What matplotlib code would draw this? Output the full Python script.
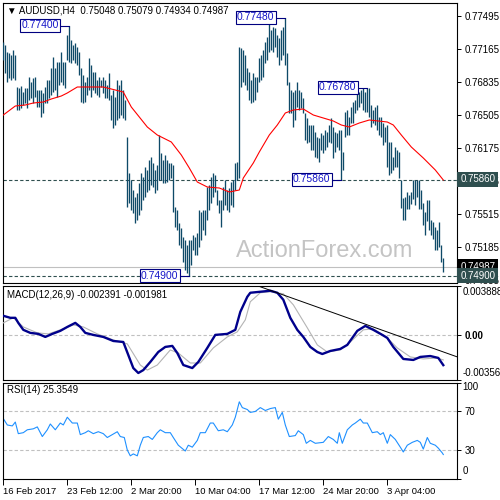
import matplotlib
matplotlib.use('Agg')
import matplotlib.pyplot as plt

plt.rcParams['font.family'] = ['Liberation Sans', 'DejaVu Sans']

# H4 bars, high / low per bar
bar_high = [0.77235, 0.77205, 0.77135, 0.77125, 0.77105, 0.77155, 0.77105, 0.76785, 0.76775, 0.76795,
            0.76735, 0.76775, 0.76775, 0.76885, 0.76835, 0.76875, 0.76885, 0.76755, 0.76755, 0.76755,
            0.76725, 0.76785, 0.76855, 0.76855, 0.76975, 0.77085, 0.76975, 0.77035, 0.77035, 0.77135,
            0.77035, 0.77035, 0.77305, 0.77400, 0.77255, 0.77205, 0.77225, 0.77185, 0.77135, 0.76975,
            0.76905, 0.76835, 0.76885, 0.77075, 0.77005, 0.76935, 0.76935, 0.76855, 0.76885, 0.76855,
            0.76885, 0.76855, 0.76805, 0.76925, 0.76705, 0.76755, 0.76685, 0.76855, 0.76805, 0.76855,
            0.76755, 0.76655, 0.76285, 0.75925, 0.75855, 0.75755, 0.75685, 0.75725, 0.75825, 0.75925,
            0.75885, 0.75985, 0.75955, 0.76055, 0.76085, 0.76025, 0.75955, 0.76005, 0.76305, 0.76125,
            0.76055, 0.76105, 0.76055, 0.76025, 0.76025, 0.76005, 0.75585, 0.75555, 0.75425, 0.75375,
            0.75285, 0.75255, 0.75205, 0.75255, 0.75255, 0.75305, 0.75285, 0.75325, 0.75555, 0.75535,
            0.75555, 0.75555, 0.75785, 0.75805, 0.75885, 0.75925, 0.75905, 0.75755, 0.75655, 0.75655,
            0.75785, 0.75855, 0.75755, 0.75775, 0.75835, 0.75855, 0.76025, 0.76035, 0.77185, 0.77175,
            0.77155, 0.77105, 0.76975, 0.76935, 0.76855, 0.76925, 0.76885, 0.76885, 0.77075, 0.77105,
            0.77155, 0.77235, 0.77285, 0.77435, 0.77355, 0.77385, 0.77375, 0.77305, 0.77275, 0.77355,
            0.77385, 0.77480, 0.77125, 0.76835, 0.76755, 0.76735, 0.76755, 0.76835, 0.76755, 0.76735,
            0.76675, 0.76525, 0.76475, 0.76405, 0.76405, 0.76405, 0.76335, 0.76285, 0.76275, 0.76325,
            0.76305, 0.76355, 0.76335, 0.76405, 0.76475, 0.76385, 0.76335, 0.76325, 0.76355, 0.76355,
            0.76135, 0.76535, 0.76555, 0.76485, 0.76585, 0.76635, 0.76655, 0.76755, 0.76735, 0.76755,
            0.76775, 0.76735, 0.76780, 0.76775, 0.76605, 0.76555, 0.76585, 0.76605, 0.76485, 0.76485,
            0.76425, 0.76385, 0.76405, 0.76235, 0.76235, 0.76085, 0.76185, 0.76155, 0.76135, 0.75855,
            0.75675, 0.75685, 0.75735, 0.75705, 0.75735, 0.75855, 0.75855, 0.75855, 0.75855, 0.75755,
            0.75625, 0.75535, 0.75655, 0.75655, 0.75455, 0.75435, 0.75385, 0.75355, 0.75435, 0.75205,
            0.75079]
bar_low = [0.77055, 0.76925, 0.76835, 0.76875, 0.76855, 0.76875, 0.76855, 0.76555, 0.76555, 0.76575,
           0.76605, 0.76625, 0.76575, 0.76655, 0.76675, 0.76625, 0.76685, 0.76585, 0.76585, 0.76485,
           0.76525, 0.76625, 0.76625, 0.76675, 0.76705, 0.76735, 0.76755, 0.76685, 0.76805, 0.76835,
           0.76805, 0.76775, 0.77055, 0.77035, 0.77025, 0.77055, 0.77025, 0.77005, 0.76905, 0.76635,
           0.76625, 0.76635, 0.76705, 0.76755, 0.76685, 0.76755, 0.76725, 0.76705, 0.76685, 0.76785,
           0.76725, 0.76675, 0.76675, 0.76655, 0.76455, 0.76375, 0.76405, 0.76455, 0.76475, 0.76505,
           0.76475, 0.76455, 0.75585, 0.75625, 0.75555, 0.75525, 0.75425, 0.75455, 0.75505, 0.75555,
           0.75655, 0.75685, 0.75735, 0.75755, 0.75805, 0.75785, 0.75725, 0.75755, 0.75855, 0.75855,
           0.75825, 0.75825, 0.75835, 0.75855, 0.75875, 0.75535, 0.75385, 0.75355, 0.75205, 0.75175,
           0.75035, 0.74955, 0.74925, 0.74900, 0.75005, 0.75155, 0.75105, 0.75105, 0.75185, 0.75255,
           0.75355, 0.75305, 0.75455, 0.75555, 0.75625, 0.75685, 0.75735, 0.75605, 0.75525, 0.75385,
           0.75555, 0.75605, 0.75555, 0.75535, 0.75605, 0.75585, 0.75755, 0.75855, 0.75875, 0.76785,
           0.76835, 0.76805, 0.76755, 0.76655, 0.76625, 0.76635, 0.76655, 0.76735, 0.76835, 0.76855,
           0.76885, 0.77025, 0.77055, 0.77135, 0.77155, 0.77135, 0.77185, 0.77085, 0.77005, 0.77055,
           0.77105, 0.77005, 0.76805, 0.76525, 0.76525, 0.76385, 0.76455, 0.76585, 0.76555, 0.76575,
           0.76525, 0.76255, 0.76225, 0.76235, 0.76155, 0.76155, 0.76085, 0.76075, 0.76035, 0.76155,
           0.76125, 0.76155, 0.76185, 0.76235, 0.76225, 0.76075, 0.76135, 0.76185, 0.76155, 0.75860,
           0.75955, 0.76285, 0.76305, 0.76305, 0.76425, 0.76425, 0.76525, 0.76555, 0.76585, 0.76625,
           0.76555, 0.76535, 0.76535, 0.76485, 0.76385, 0.76425, 0.76405, 0.76355, 0.76305, 0.76285,
           0.76205, 0.76235, 0.75985, 0.75905, 0.75925, 0.75955, 0.75985, 0.75985, 0.75875, 0.75575,
           0.75455, 0.75455, 0.75565, 0.75565, 0.75615, 0.75665, 0.75605, 0.75685, 0.75565, 0.75565,
           0.75405, 0.75305, 0.75445, 0.75355, 0.75305, 0.75265, 0.75155, 0.75155, 0.75185, 0.75035,
           0.74934]

# red moving average (sampled along the line)
ma_idx = [0, 6, 11, 15, 20, 24, 29, 32, 37, 42, 50, 54, 60, 64, 68, 72, 77, 84, 89, 93,
          97, 102, 108, 113, 118, 120, 125, 128, 133, 137, 141, 145, 150, 155, 160, 165, 169, 173, 178, 183,
          192, 195, 199, 204, 210, 216, 220]
ma_val = [0.76505, 0.76595, 0.76605, 0.76625, 0.76635, 0.76665, 0.76695, 0.76725, 0.76785, 0.76785,
          0.76785, 0.76765, 0.76735, 0.76585, 0.76485, 0.76385, 0.76305, 0.76235, 0.76105, 0.75975,
          0.75835, 0.75785, 0.75775, 0.75735, 0.75755, 0.75875, 0.76025, 0.76135, 0.76305, 0.76405,
          0.76525, 0.76555, 0.76565, 0.76505, 0.76475, 0.76445, 0.76405, 0.76385, 0.76425, 0.76455,
          0.76435, 0.76405, 0.76305, 0.76185, 0.76075, 0.75955, 0.75855]

# MACD(12,26,9)
macd_idx = [0, 3.5, 6, 7.5, 10, 13.5, 17.5, 21, 24.5, 28.5, 32, 36, 38.5, 41, 45, 50, 55, 60, 62.5, 65,
            67.5, 70, 73.5, 77.5, 81, 84.5, 87, 90, 94.5, 97.5, 102, 106, 112, 116, 118.5, 122, 123.5, 128.5,
            133.5, 137, 140, 143.5, 147, 150, 153.5, 157, 159.5, 163.5, 168.5, 172, 177, 181, 185, 189.5,
            192, 195, 200, 205, 208.5, 213.5, 217.5, 220]
macd_val = [0.00151, 0.00135, 0.00135, 0.00095, 0.00040, 0.00016, 0.00008, -0.00016, 0.00008, 0.00032,
            0.00063, 0.00095, 0.00063, 0.00016, 0.0, -0.00016, -0.00048, -0.00056, -0.00159, -0.00262,
            -0.00301, -0.00278, -0.00214, -0.00135, -0.00095, -0.00087, -0.00143, -0.00238, -0.00262, -0.00214,
            -0.00103, 0.0, 0.00008, 0.00040, 0.00182, 0.00301, 0.00333, 0.00341, 0.00349, 0.00333,
            0.00278, 0.00135, 0.00040, -0.00016, -0.00095, -0.00135, -0.00151, -0.00127, -0.00111, -0.00079,
            0.00032, 0.00071, 0.00040, 0.0, -0.00024, -0.00095, -0.00190, -0.00198, -0.00174, -0.00167,
            -0.00182, -0.00239]
sig_idx = [0, 5, 10, 17, 22.5, 28.5, 35, 40, 47, 55, 62, 68.5, 72, 77, 83.5, 87.5, 93.5, 98.5, 105, 112,
           117, 121, 123.5, 128.5, 133.5, 140, 145, 152, 157, 162, 168.5, 173.5, 180, 185, 192, 197,
           203.5, 210, 217, 220]
sig_val = [0.00095, 0.00135, 0.00063, 0.00016, 0.00008, 0.00040, 0.00079, 0.00063, 0.00008, -0.00040,
           -0.00071, -0.00238, -0.00278, -0.00238, -0.00119, -0.00143, -0.00222, -0.00222, -0.00103, -0.00016,
           0.00024, 0.00119, 0.00262, 0.00333, 0.00341, 0.00325, 0.00238, 0.00056, -0.00079, -0.00135,
           -0.00119, -0.00056, 0.00040, 0.00048, -0.00024, -0.00103, -0.00174, -0.00190, -0.00182, -0.00198]
trend_idx = [127, 227]
trend_val = [0.003888, -0.00174]

# RSI(14)
rsi_idx = [0, 2, 4.5, 6, 7.5, 10, 12, 15, 17, 19.5, 22, 23.5, 26, 28.5, 30, 32, 34.5, 37, 38.5, 41,
           42.5, 45, 47.5, 50, 52, 54.5, 57, 58.5, 60.5, 62, 63.5, 65, 67, 68.5, 70, 72.5, 74.5, 77, 78.5, 81,
           83.5, 85, 87.5, 91, 92.5, 94.5, 97, 98.5, 101, 103.5, 105, 107.5, 110, 112, 114.5, 116, 118, 119.5,
           122, 123.5, 126, 128.5, 131, 133.5, 136, 137.5, 139.5, 141, 143, 146, 147.5, 150, 151.5, 153.5, 156,
           160, 162.5, 165, 167, 168, 169.5, 172, 174.5, 176, 178.5, 180, 182, 184.5, 187, 188.5, 190, 192,
           193.5, 196, 198.5, 200, 202, 204.5, 207, 208.5, 210, 212, 213.5, 216, 217.5, 219.5, 220]
rsi_val = [62.6, 56, 55, 59, 47, 48, 51, 52, 54, 44, 51, 57, 51, 58, 56, 64, 58, 58, 46, 48,
           50, 47, 49, 47, 43, 46, 49, 44, 43, 30, 24, 26, 24, 35, 43, 44, 41, 48, 51, 48,
           48, 43, 35, 29, 35, 33, 40, 48, 48, 58, 58, 50, 51, 49, 56, 64, 80, 74, 72, 69,
           70, 74, 71, 73, 74, 62, 69, 56, 44, 45, 50, 46, 37, 40, 37, 38, 44, 41, 37, 48,
           37, 51, 56, 58, 62, 58, 58, 48, 49, 46, 48, 37, 46, 41, 33, 28, 35, 38, 40, 38,
           31, 43, 37, 35, 32, 27, 25.35]

price_ticks = [0.77495, 0.77165, 0.76835, 0.76505, 0.76175, 0.75845, 0.75515, 0.75185, 0.74855]
swing_bars = [33, 141, 182, 169, 93]
swing_prices = [0.77400, 0.77480, 0.76780, 0.75860, 0.74900]
last_price = 0.74987
date_idx = [0, 32, 64, 96, 128, 160, 192]
date_labels = ['16 Feb 2017', '23 Feb 12:00', '2 Mar 20:00', '10 Mar 04:00',
               '17 Mar 12:00', '24 Mar 20:00', '3 Apr 04:00']

BAR = '#0e4a68'
SLATE = '#2f4f4f'
FS = 7

fig = plt.figure(figsize=(5, 5), dpi=100)
fig.patch.set_facecolor('white')
ax = fig.add_axes([0.0054, 0.4334, 0.9092, 0.5612])
ax_m = fig.add_axes([0.0054, 0.2400, 0.9092, 0.1886])
ax_r = fig.add_axes([0.0054, 0.0420, 0.9092, 0.1930])

for a in (ax, ax_m, ax_r):
    a.set_xlim(-0.3, 227)
    for s in a.spines.values():
        s.set_linewidth(0.8)
        s.set_color('black')
    a.yaxis.tick_right()
    a.tick_params(axis='y', direction='out', length=3, width=0.7, pad=2, labelsize=FS)
    a.set_xticks([])

# ---- price panel
ax.set_ylim(0.74822, 0.77628)
ax.vlines(range(len(bar_high)), bar_low, bar_high, color=BAR, lw=0.95, zorder=3)
ax.plot(ma_idx, ma_val, color='red', lw=0.8, zorder=4)
ax.axhline(swing_prices[3], color=SLATE, lw=0.8, ls=(0, (3, 2)), zorder=2)
ax.axhline(swing_prices[4], color=SLATE, lw=0.8, ls=(0, (3, 2)), zorder=2)
ax.axhline(last_price, color='#c0c0c0', lw=0.8, zorder=2)
ax.set_yticks(price_ticks)
ax.set_yticklabels(['%.5f' % t for t in price_ticks])

for b, p in zip(swing_bars, swing_prices):
    ax.plot([b - 4.7, b], [p, p], color='#000080', lw=0.8, zorder=5)
    ax.text(b - 5.4, p, '%.5f' % p, ha='right', va='center', fontsize=7.5, color='#1414c8', zorder=6,
            bbox=dict(boxstyle='square,pad=0.12', fc='white', ec='#000080', lw=0.8))

for p, fc, z in [(swing_prices[3], SLATE, 10), (last_price, 'black', 10), (swing_prices[4], SLATE, 11)]:
    ax.annotate('%.5f' % p, xy=(1, p), xycoords=('axes fraction', 'data'), xytext=(2.2, 0),
                textcoords='offset points', ha='left', va='center', fontsize=FS, color='white',
                annotation_clip=False, zorder=z,
                bbox=dict(boxstyle='square,pad=0.3', fc=fc, ec=fc, lw=0))

ax.text(0.0095, 0.9715, '\u25bc AUDUSD,H4  0.75048 0.75079 0.74934 0.74987', transform=ax.transAxes,
        ha='left', va='center', fontsize=7, color='black', zorder=7)
ax.text(0.472, 0.486, 'ActionForex.com', transform=fig.transFigure, ha='left', va='baseline',
        fontsize=17, color='#c4c4c4', zorder=1)

# ---- MACD panel
ax_m.set_ylim(-0.003564, 0.003888)
ax_m.axhline(0, color='#c0c0c0', lw=0.8, ls=(0, (3, 2)))
ax_m.plot(sig_idx, sig_val, color='#b4b4b4', lw=0.8, zorder=3)
ax_m.plot(macd_idx, macd_val, color='#00008b', lw=1.7, zorder=4)
ax_m.plot(trend_idx, trend_val, color='black', lw=0.7, zorder=5)
ax_m.set_yticks([0.003888, 0, -0.003564])
ax_m.set_yticklabels(['', '0.00', ''])
for lbl in ax_m.get_yticklabels():
    lbl.set_fontweight('bold')
ax_m.annotate('0.003888', xy=(1, 0.003888), xycoords=('axes fraction', 'data'), xytext=(3.5, -1),
              textcoords='offset points', ha='left', va='top', fontsize=FS, annotation_clip=False)
ax_m.annotate('-0.003564', xy=(1, -0.003564), xycoords=('axes fraction', 'data'), xytext=(3.5, 1.5),
              textcoords='offset points', ha='left', va='bottom', fontsize=FS, annotation_clip=False)
ax_m.text(0.0095, 0.9, 'MACD(12,26,9) -0.002391 -0.001981', transform=ax_m.transAxes,
          ha='left', va='center', fontsize=7)

# ---- RSI panel
ax_r.set_ylim(0, 100)
ax_r.axhline(70, color='#c0c0c0', lw=0.8, ls=(0, (3, 2)))
ax_r.axhline(30, color='#c0c0c0', lw=0.8, ls=(0, (3, 2)))
ax_r.plot(rsi_idx, rsi_val, color='#1e90ff', lw=0.8)
ax_r.set_yticks([100, 70, 30, 0])
ax_r.set_yticklabels(['', '70', '30', ''])
ax_r.annotate('100', xy=(1, 100), xycoords=('axes fraction', 'data'), xytext=(3.5, 0),
              textcoords='offset points', ha='left', va='top', fontsize=FS, annotation_clip=False)
ax_r.annotate('0', xy=(1, 0), xycoords=('axes fraction', 'data'), xytext=(3.5, 2.5),
              textcoords='offset points', ha='left', va='bottom', fontsize=FS, annotation_clip=False)
ax_r.text(0.0095, 0.92, 'RSI(14) 25.3549', transform=ax_r.transAxes, ha='left', va='center', fontsize=7)
ax_r.set_xticks(date_idx)
ax_r.set_xticklabels(date_labels)
ax_r.tick_params(axis='x', direction='out', length=4, width=0.7, pad=2, labelsize=6.8)
for lbl in ax_r.get_xticklabels():
    lbl.set_ha('left')

fig.savefig('out.png', dpi=100, facecolor='white')
